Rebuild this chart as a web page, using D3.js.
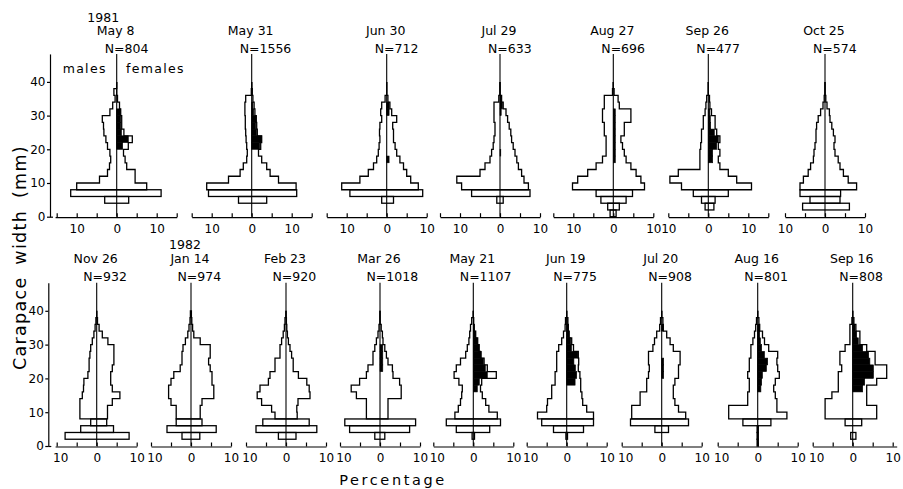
<!DOCTYPE html>
<html><head><meta charset="utf-8">
<script src="https://cdn.jsdelivr.net/npm/d3@7"></script>
<style>
body{margin:0;background:#fff}
svg{display:block}
text{font-family:"DejaVu Sans",sans-serif;fill:#000}
</style>
</head><body>
<svg id="chart" width="903" height="489"></svg>
<script>
// ---------------- DATA ----------------
// size classes: 2 mm bins, lower edges 0,2,...,38 (carapace width, mm)
const binLower = d3.range(0, 40, 2);
const years = ["1981","","","","","","", "","1982","","","","","","",""];
const dates = ["May 8","May 31","Jun 30","Jul 29","Aug 27","Sep 26","Oct 25",
               "Nov 26","Jan 14","Feb 23","Mar 26","May 21","Jun 19","Jul 20","Aug 16","Sep 16"];
const sampleN = [804,1556,712,633,696,477,574, 932,974,920,1018,1107,775,908,801,808];
const yTickValues = [0,10,20,30,40];
const xTickLabelValues = [-10,0,10];

// percentage of males per size class (left side)
const males = [
 [0,0,3,11.5,10,4.3,2.3,1.8,1.5,1.7,2.3,2.7,3.2,3.3,3.6,1.7,1,0.4,0.7,0],
 [0,0,3.3,10.8,11.25,5.8,2.9,2.1,1.25,1.1,1.25,1.4,1.5,1.6,1.6,1.7,1.7,1.5,0.1,0],
 [0,0,1.25,9.2,11.25,6.7,4.6,3.3,2.5,2.1,1.9,1.7,1.8,1.7,1.25,1.5,1.25,0.4,0,0],
 [0,0,0.8,7.1,9.6,10.8,5,3.75,2.5,2.1,1.7,1.5,1.25,1.25,1.5,1.5,1.5,0.3,0,0],
 [0.8,1.4,3.1,4.3,10.2,8.9,6.4,4.3,2.7,1.8,1.8,1.8,2.25,2.25,2.7,2.7,2.25,2.25,0.2,0],
 [0,0.8,1.7,3.75,6.7,9.6,7.5,2.1,2.1,2.1,1.9,1.7,1.7,1.25,1.25,0.8,0.6,0.4,0,0],
 [0,5.6,3.75,6.25,6.25,5.4,4.2,3.6,2.9,2.75,2.5,2.25,2.25,2.1,1.7,1.1,0.5,0.2,0,0],
 [0,7.9,4,1.5,4.2,4.2,4.2,3.6,3.3,3.2,2.2,1.9,1.9,1.7,1.5,1.1,0.7,0.4,0.2,0],
 [0,2.25,6,3.7,3.7,3.7,5,5.6,5.6,5,4.3,2.7,2.25,2.25,2,1.4,0.8,0.5,0.25,0.15],
 [0,1.9,7.5,5.8,2.75,3.6,6.1,7.2,6.5,4.4,4,2.75,2.75,1.5,1.5,1.1,0.7,0.4,0.25,0],
 [0,1.3,7.6,8.8,3.4,3.4,3.4,5.9,7.2,5.1,3.4,3,1.75,1.75,1.3,0.9,0.5,0.25,0,0],
 [0,0.3,4.25,6.75,4.6,3.75,3.2,2.9,2.75,3.6,4.8,4.25,3.2,1.9,1.5,1.1,0.9,0.7,0.4,0],
 [0,0.2,3.3,6.25,7.3,5,4.8,3.75,3.75,2.9,2.9,2.5,2.5,2.5,2,1.25,0.8,0.4,0.3,0],
 [0,0,1.7,7.8,7.5,7.5,5.4,5.4,3.75,3.75,3.3,3.1,3.3,3.3,2.2,1.8,1.25,0.5,0.3,0],
 [0.15,0.15,0.15,3.7,7.25,7.25,2.5,2.5,2.1,2.1,2.5,2.1,2.1,1.7,1.7,1.2,0.8,0.5,0.3,0],
 [0,0.5,0,1.9,6.9,6.9,6.9,5.2,3.6,3.6,3.6,2.75,3.2,3.2,1.9,0.7,0.7,0.7,0.2,0]
];
// percentage of females per size class (right side)
const females = [
 [0,0,3,11.1,7.5,4.6,4.6,2.5,2.1,1.7,2.9,3.9,1.8,1.25,1.25,1,0.7,0.2,0,0],
 [0,0,3.75,11.25,11.1,6.7,4.6,3.75,2.5,1.7,2.25,2.5,1.4,1.25,1.1,0.8,0.6,0.3,0.1,0],
 [0,0,1.7,9,7.9,6,5,4.2,3.3,2.5,2.1,1.7,1.7,1.5,2.5,1.25,0.8,0.3,0,0],
 [0,0,0.8,7.5,7.1,6,5.4,4.6,4.2,3.75,3.3,2.9,2.7,2.3,1.9,1.5,0.8,0.4,0,0],
 [0.7,1.5,3.2,4.8,7.8,6.9,5.7,4.4,3.2,2.75,2.3,1.9,2.75,2.75,4.4,4.4,1.5,1.2,0.2,0],
 [0,1.4,1.7,5,10.8,7.1,5,2.9,2.5,2.9,2.5,2.9,2.1,1.7,1.7,0.8,0.4,0.3,0,0],
 [0,6.1,3.75,3.9,7.9,5.8,4.6,3.75,3.3,2.5,2.25,2.5,2.1,1.7,1.25,1.1,0.5,0.2,0,0],
 [0,8.1,4.2,2.5,2.7,2.7,3.9,5.8,3.9,3.5,3.5,3.9,4.3,4.3,4.3,2.8,1.4,0.6,0.2,0],
 [0,2.2,6.3,2.75,2.3,2.3,2.75,5.7,5.7,5.25,5.25,4.8,4.4,4.8,4.8,2.3,0.7,0.4,0.2,0.1],
 [0,2.5,7.7,5.8,2.8,2.7,3,6,5.8,5.2,3.1,1.8,1.8,1.4,1,0.6,0.35,0.2,0.1,0],
 [0,1.2,7.4,8.9,2,2,2,5.3,5.3,4.9,3.25,3.1,2,1.6,1.2,0.75,0.6,0.3,0,0],
 [0,0.3,4.1,6.8,6,3.9,3.1,2.25,1.8,2.1,5.75,3.5,2.7,1.8,1.4,1.1,0.6,0.2,0.1,0],
 [0,0.2,4.2,6.7,6.7,5,4,3.8,3.5,3.5,3.3,2.9,3,2.9,1.7,1.25,0.6,0.4,0.3,0],
 [0,0,1.7,6.7,6,4.2,3.3,2.9,2.9,3.3,4.2,4.2,4.6,4.6,2.9,2.1,1.25,0.4,0.3,0],
 [0.15,0.15,0.15,3.3,7.3,4.8,4.8,4.4,4,4.4,5.4,5,4.8,5,2.75,1.7,1.2,0.5,0.3,0],
 [0,0.8,0,2.25,6,6,3.5,3.5,3.5,6,8.5,8.5,5.6,5.6,3.5,1.8,1.8,0.8,0.3,0]
];
// percentage of ovigerous females (black, part of females)
const ovigerous = [
 [0,0,0,0,0,0,0,0,0,0,1.5,2.9,1.2,1,1,0.9,0,0,0,0],
 [0,0,0,0,0,0,0,0,0,0,2,2.5,1.2,1,1.2,0.5,0.3,0,0.2,0],
 [0,0,0,0,0,0,0,0,0.6,0,0,0,0,0,0,0.6,0.6,0,0,0],
 [0,0,0,0,0,0,0,0,0,0.2,0,0,0,0,0,0.3,0.6,0.3,0,0],
 [0,0,0,0,0,0,0,0,0.5,0.5,0.5,0.5,0.5,0.5,0.5,0.5,0,0,0,0],
 [0,0,0,0,0,0,0,0,1.1,1.1,2.1,2.5,1.5,0.6,0.5,0.4,0,0,0,0],
 [0,0,0,0,0,0,0,0,0,0,0,0,0,0,0,0,0,0,0,0],
 [0,0,0,0,0,0,0,0,0,0,0,0,0,0,0,0,0,0,0,0],
 [0,0,0,0,0,0,0,0,0,0,0,0,0,0,0,0,0,0,0,0],
 [0,0,0,0,0,0,0,0,0,0,0,0,0,0,0,0,0,0,0,0],
 [0,0,0,0,0,0,0,0,0,0,0,0.7,0.7,0.7,0.7,0,0,0,0,0],
 [0,0,0,0,0,0,0,0,1,1.5,3.5,3,2.5,2,1.5,1,0.6,0.3,0.1,0],
 [0,0,0,0,0,0,0,0,0,2.1,2.5,2.2,1.8,2.8,1.2,1,0.6,0.4,0.2,0],
 [0,0,0,0,0,0,0,0,0,0,0.5,0.5,0.5,0,0,0,0,0.4,0,0],
 [0,0,0,0,0,0,0,0,0.8,1,1.2,2.2,2.5,1.7,1,0.7,0.5,0.4,0,0],
 [0,0,0,0,0,0,0,0,2.5,3,5.2,5.2,4.3,4,2.5,1.4,1,0.6,0.2,0]
];

// ---------------- LAYOUT ----------------
const svg = d3.select("#chart");
const pxPerPct = 4;
const juvenileLimit = 8; // mm, classes below are drawn as whole boxes
const rows = [
  { y0: 216.7, pxPerMm: 3.37, axisX: 50, first: 0,
    zeros: [116.7,251.7,386.7,500,613.3,708.3,825],
    ext: [[-15.4,15],[-15,15],[-15,10],[-15,10],[-15,10],[-10,15],[-10,10]],
    textY: [21.7,35,53.3], nDx: -12, yearDx: -13.5, leftLabelDx: 0 },
  { y0: 446, pxPerMm: 3.38, axisX: 48.3, first: 7,
    zeros: [96.7,191,286,380,473.3,566.7,661.7,757.7,852.7],
    ext: [[-10.4,10],[-10,10],[-10,10],[-10,10],[-10,10],[-10,10],[-10,10],[-10,10],[-10,11]],
    textY: [249,263.3,280.5], nDx: -13.5, yearDx: -6, leftLabelDx: 3.5 }
];

rows.forEach(row => {
  const y = d3.scaleLinear().domain([0, 48.3]).range([row.y0, row.y0 - 48.3*row.pxPerMm]);
  // y axis
  const ya = svg.append("g").attr("transform", `translate(${row.axisX},0)`)
    .call(d3.axisLeft(y).tickValues(yTickValues).tickSize(3).tickSizeOuter(0).tickPadding(1.5));
  ya.selectAll("text").attr("font-size", 12).attr("font-family", "DejaVu Sans");
  ya.selectAll("path,line").attr("stroke", "#000").attr("stroke-width", 1.2);
  svg.append("line").attr("x1", row.axisX).attr("x2", row.axisX + 3)
     .attr("y1", row.y0 + 0.5).attr("y2", row.y0 + 0.5).attr("stroke", "#000").attr("stroke-width", 1.2);

  row.zeros.forEach((zx, i) => {
    const p = row.first + i;
    const [e0, e1] = row.ext[i];
    const x = d3.scaleLinear().domain([e0, e1]).range([zx + e0*pxPerPct, zx + e1*pxPerPct]);
    const g = svg.append("g");

    // x axis
    const tv = d3.range(Math.ceil(e0/5)*5, e1 + 0.001, 5);
    const xa = g.append("g").attr("transform", `translate(0,${row.y0 + 0.5})`)
      .call(d3.axisBottom(x).tickValues(tv).tickSize(-4).tickSizeOuter(0).tickPadding(7)
        .tickFormat(d => xTickLabelValues.includes(d) ? String(Math.abs(d)) : ""));
    xa.selectAll("text").attr("font-size", 12).attr("font-family", "DejaVu Sans")
      .attr("dx", d => d < 0 ? row.leftLabelDx : 0);
    xa.selectAll("path,line").attr("stroke", "#000").attr("stroke-width", 1.2);

    const m = males[p], f = females[p], o = ovigerous[p];

    // ovigerous females (black)
    binLower.forEach((b, k) => {
      if (o[k] > 0) {
        g.append("rect").attr("x", x(0)).attr("y", y(b + 2))
          .attr("width", x(o[k]) - x(0)).attr("height", y(b) - y(b + 2))
          .attr("fill", "#000").attr("stroke", "#000").attr("stroke-width", 0.6);
      }
    });

    const line = d3.line().x(d => x(d[0])).y(d => y(d[1]));
    // juvenile boxes
    binLower.forEach((b, k) => {
      if (b < juvenileLimit && (m[k] > 0 || f[k] > 0)) {
        g.append("rect").attr("x", x(-m[k])).attr("y", y(b + 2))
          .attr("width", x(f[k]) - x(-m[k])).attr("height", y(b) - y(b + 2))
          .attr("fill", "none").attr("stroke", "#000").attr("stroke-width", 1.3);
      }
    });
    // males and females step outlines
    [[m, -1], [f, 1]].forEach(([arr, s]) => {
      const pts = [[0, juvenileLimit]];
      binLower.forEach((b, k) => {
        if (b >= juvenileLimit) { pts.push([s*arr[k], b], [s*arr[k], b + 2]); }
      });
      pts.push([0, 40]);
      g.append("path").attr("d", line(pts)).attr("fill", "none")
        .attr("stroke", "#000").attr("stroke-width", 1.3).attr("stroke-linejoin", "miter");
    });
    // zero line
    g.append("line").attr("x1", x(0)).attr("x2", x(0)).attr("y1", y(0)).attr("y2", y(48.3))
      .attr("stroke", "#000").attr("stroke-width", 1.1);

    // headers
    if (years[p]) g.append("text").attr("x", zx + row.yearDx).attr("y", row.textY[0])
      .attr("text-anchor", "middle").attr("font-size", 12.5).text(years[p]);
    g.append("text").attr("x", zx - 1).attr("y", row.textY[1])
      .attr("text-anchor", "middle").attr("font-size", 12.5).text(dates[p]);
    g.append("text").attr("x", zx + row.nDx).attr("y", row.textY[2])
      .attr("font-size", 12.5).text("N=" + sampleN[p]);
  });
});

// legend words in first panel
svg.append("text").attr("x", 62.7).attr("y", 72.7).attr("font-size", 12.5)
  .attr("letter-spacing", 1.3).text("males");
svg.append("text").attr("x", 126).attr("y", 72.7).attr("font-size", 12.5)
  .attr("letter-spacing", 1.3).text("females");

// axis titles
svg.append("text").attr("x", 393).attr("y", 485).attr("text-anchor", "middle")
  .attr("font-size", 14.5).attr("letter-spacing", 2.6).text("Percentage");
svg.append("text").attr("transform", "translate(25.5,370) rotate(-90)")
  .attr("text-anchor", "start").attr("font-size", 17.5).attr("letter-spacing", 1.3)
  .attr("word-spacing", 5).text("Carapace width (mm)");
</script>
</body></html>
